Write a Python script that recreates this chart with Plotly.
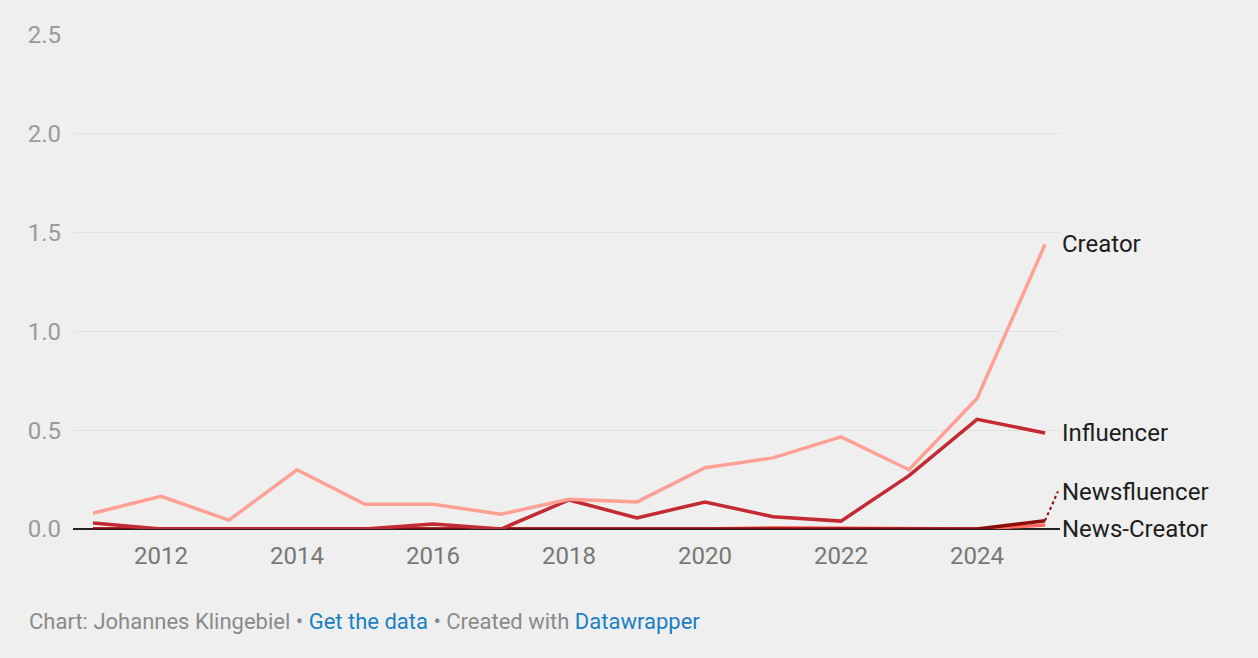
import plotly.graph_objects as go

years = list(range(2011, 2026))
creator = [0.08, 0.165, 0.045, 0.30, 0.125, 0.125, 0.075, 0.15, 0.137, 0.31, 0.36, 0.466, 0.30, 0.66, 1.44]
influencer = [0.03, 0.0, 0.0, 0.0, 0.0, 0.025, 0.0, 0.147, 0.056, 0.137, 0.062, 0.04, 0.27, 0.555, 0.486]
newsfluencer = [0, 0, 0, 0, 0, 0, 0, 0, 0, 0, 0, 0, 0, 0, 0.042]
news_creator = [0, 0, 0, 0, 0, 0, 0, 0, 0, 0, 0.006, 0.003, 0, 0, 0.02]

series = [
    ("News-Creator", news_creator, "#ff6b60", 0.0),
    ("Newsfluencer", newsfluencer, "#8c0c0c", 0.187),
    ("Influencer", influencer, "#c42a33", None),
    ("Creator", creator, "#ffa095", None),
]

BG = "#efefef"
fig = go.Figure()
for name, vals, col, _ in series:
    fig.add_trace(go.Scatter(x=years, y=vals, mode="lines", name=name,
                             line=dict(color=col, width=3.5), showlegend=False,
                             hoverinfo="skip"))

# right labels
for name, vals, col, ly in series:
    yy = vals[-1] if ly is None else ly
    fig.add_annotation(x=1, xref="paper", y=yy, yref="y", text=name,
                       showarrow=False, xanchor="left", yanchor="middle",
                       xshift=0, font=dict(family="Roboto", size=24, color="#1d1d1d"))

# dotted connector for Newsfluencer
fig.add_shape(type="line", x0=2025, y0=newsfluencer[-1], x1=2025.19, y1=0.19,
              xref="x", yref="y", line=dict(color="#8c0c0c", width=2, dash="dot"))

fig.add_annotation(
    x=0, xref="paper", xanchor="left", y=0, yref="paper", yanchor="middle",
    text="Chart: Johannes Klingebiel • <span style='color:#1a80c4'>Get the data</span> • Created with <span style='color:#1a80c4'>Datawrapper</span>",
    showarrow=False, xshift=-46, yshift=-92,
    font=dict(family="Roboto", size=22, color="#8a8a8a"))

fig.update_layout(
    width=1258, height=658,
    paper_bgcolor=BG, plot_bgcolor=BG,
    margin=dict(l=73, r=198, t=35, b=129, pad=0),
    font=dict(family="Roboto"),
    hovermode=False,
    xaxis=dict(range=[2010.706, 2025.22], tickvals=[2012, 2014, 2016, 2018, 2020, 2022, 2024],
               ticktext=["2012", "2014", "2016", "2018", "2020", "2022", "2024"],
               showgrid=False, zeroline=False, showline=False, ticks="",
               tickfont=dict(size=24, color="#777777"), ticklabelstandoff=10),
    yaxis=dict(range=[0, 2.5], tickvals=[0, 0.5, 1.0, 1.5, 2.0, 2.5],
               ticktext=["0.0", "0.5", "1.0", "1.5", "2.0", "2.5"],
               showgrid=True, gridcolor="#e2e2e2", gridwidth=1,
               zeroline=True, zerolinecolor="#222222", zerolinewidth=1.5,
               showline=False, ticks="", tickfont=dict(size=24, color="#9a9a9a"),
               ticklabelstandoff=11),
)

fig.write_html(
    "out.html",
    config={"displayModeBar": False, "staticPlot": True},
    post_script="document.body.style.margin='0';document.body.style.background='#efefef';document.body.style.overflow='hidden';",
)
